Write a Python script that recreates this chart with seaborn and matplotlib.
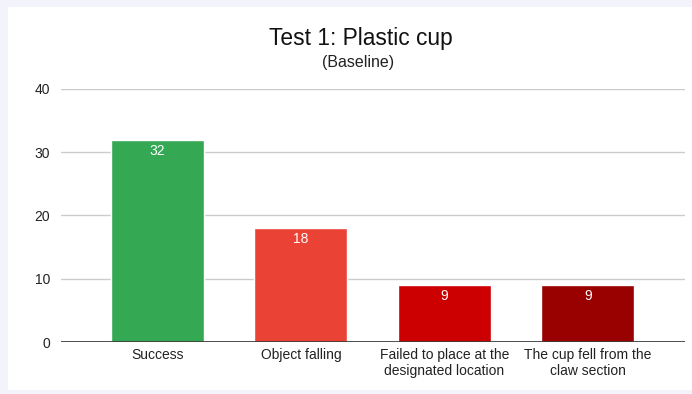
import matplotlib
matplotlib.use("Agg")
import matplotlib.pyplot as plt
import matplotlib.patches as mpatches
import pandas as pd
import seaborn as sns

# data
categories = ["Success", "Object falling",
              "Failed to place at the\ndesignated location",
              "The cup fell from the\nclaw section"]
counts = [32, 18, 9, 9]
bar_colors = ["#34a853", "#ea4335", "#cc0000", "#990000"]
y_ticks = [0, 10, 20, 30, 40]

sns.set_style("white")
plt.rcParams["font.family"] = ["Liberation Sans", "DejaVu Sans"]

df = pd.DataFrame({"category": categories, "count": counts})

fig = plt.figure(figsize=(6.92, 3.94), dpi=100, facecolor="#f3f4fb")
# white card behind the chart
card = mpatches.Rectangle((8 / 692, 1 - 390 / 394), 1, 383 / 394,
                          transform=fig.transFigure, facecolor="white",
                          edgecolor="none", zorder=-10)
fig.patches.append(card)

ax = fig.add_axes([61 / 692, 1 - 342 / 394, 624 / 692, 253 / 394])
ax.set_facecolor("none")

sns.barplot(data=df, x="category", y="count", hue="category", palette=bar_colors,
            width=0.648, saturation=1, legend=False, ax=ax, zorder=3)

# value labels inside the top of each bar
for i, v in enumerate(counts):
    ax.annotate(str(v), (i, v), xytext=(0, -8), textcoords="offset points",
                ha="center", va="center", color="white", fontsize=10, zorder=4)

ax.set_ylim(0, 40)
ax.set_xlim(-0.672, 3.676)
ax.set_yticks(y_ticks)
ax.yaxis.grid(True, color="#cccccc", linewidth=1, zorder=0)
ax.axhline(0, color="#333333", linewidth=1.2, zorder=5)
for s in ax.spines.values():
    s.set_visible(False)
ax.tick_params(axis="both", length=0, labelsize=10, labelcolor="#222222")
ax.tick_params(axis="y", pad=8)
ax.tick_params(axis="x", pad=4)
ax.set_xlabel("")
ax.set_ylabel("")

fig.text(361 / 692, 1 - 39 / 394, "Test 1: Plastic cup", ha="center", va="center",
         fontsize=16.4, color="#111111")
fig.text(358 / 692, 1 - 63 / 394, "(Baseline)", ha="center", va="center",
         fontsize=11.5, color="#222222")

fig.savefig("out.png", dpi=100, facecolor=fig.get_facecolor())
